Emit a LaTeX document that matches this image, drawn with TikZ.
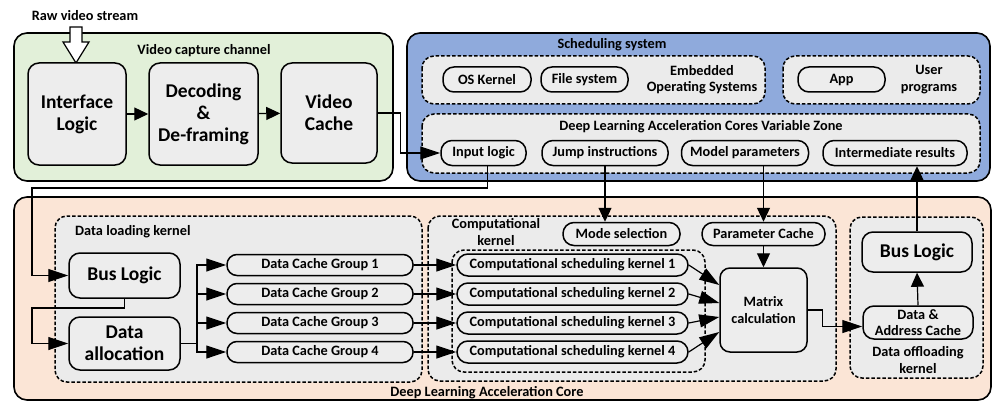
\documentclass[tikz,border=0pt]{standalone}
\usepackage{fontspec}
\setmainfont{Carlito}
\usetikzlibrary{arrows.meta,calc}

\definecolor{greenfill}{HTML}{E2F0D9}
\definecolor{bluefill}{HTML}{8FAADC}
\definecolor{orangefill}{HTML}{FBE5D6}
\definecolor{boxfill}{HTML}{EDEDED}
\definecolor{zonefill}{HTML}{EBEBEB}

\tikzset{
  small/.style={font=\fontsize{14.3}{16.5}\selectfont\bfseries},
  large/.style={font=\fontsize{19.5}{22}\selectfont\bfseries},
  frame/.style={draw, line width=1.6pt, rounded corners=13pt},
  zone/.style={draw, line width=1.5pt, dash pattern=on 3.5pt off 2pt, fill=zonefill, rounded corners=12pt},
  bigbox/.style={draw, line width=1.5pt, fill=boxfill, rounded corners=11pt, inner sep=0pt, align=center, large},
  pill/.style={draw, line width=1.5pt, fill=boxfill, rounded corners=11pt, inner sep=0pt, align=center, small},
  lbl/.style={inner sep=0pt, align=center, small},
  link/.style={line width=1.2pt, -{Triangle[length=14pt,width=13pt]}},
  longlink/.style={line width=1.2pt, -{Triangle[length=20pt,width=13pt]}},
  wire/.style={line width=1.2pt},
}

\begin{document}
\begin{tikzpicture}[x=1pt,y=-1pt]
\useasboundingbox (0,0) rectangle (995,401);

% ---------- outer frames ----------
\draw[frame, fill=greenfill] (14,33) rectangle (393,181);
\draw[frame, fill=bluefill] (407,33) rectangle (990,181);
\draw[frame, fill=orangefill] (14,197) rectangle (991,400);

% ---------- video capture channel ----------
\node[lbl] (rawlbl) at (85,16) {Raw video stream};
\draw[line width=1.2pt, fill=white, line join=miter]
  (70,27) -- (82,27) -- (82,42) -- (89,42) -- (76,63) -- (63,42) -- (70,42) -- cycle;
\node[lbl] (vcclbl) at (204,51) {Video capture channel};

\node[bigbox, minimum width=98pt, minimum height=102pt] (iface) at (77,114) {Interface\\Logic};
\node[bigbox, minimum width=109pt, minimum height=102pt] (decode) at (203.5,114) {Decoding\\\&\\De-framing};
\node[bigbox, minimum width=96pt, minimum height=100pt] (vcache) at (329,113) {Video\\Cache};

% ---------- scheduling system ----------
\node[lbl] (schedlbl) at (612,45) {Scheduling system};
\draw[zone] (422,56) rectangle (765,104);
\draw[zone] (783,56) rectangle (980,104);
\draw[zone] (422,114) rectangle (980,173);

\node[pill, minimum width=88pt, minimum height=25pt] (oskernel) at (487,79.5) {OS Kernel};
\node[pill, minimum width=87pt, minimum height=25pt] (filesys) at (584.5,79.5) {File system};
\node[lbl] (emblbl) at (702,79.5) {Embedded\\Operating Systems};
\node[pill, minimum width=87pt, minimum height=25pt] (app) at (841.5,79.5) {App};
\node[lbl] (userlbl) at (929,79.5) {User\\programs};

\node[lbl] (varlbl) at (701,127) {Deep Learning Acceleration Cores Variable Zone};
\node[pill, minimum width=85pt, minimum height=25pt] (inlogic) at (483.5,153) {Input logic};
\node[pill, minimum width=126pt, minimum height=25pt] (jump) at (605,153) {Jump instructions};
\node[pill, minimum width=127pt, minimum height=25pt] (model) at (745,153) {Model parameters};
\node[pill, minimum width=144pt, minimum height=25pt] (inter) at (895,153) {Intermediate results};

% ---------- deep learning acceleration core ----------
\node[lbl] (corelbl) at (487,393) {Deep Learning Acceleration Core};

% data loading kernel
\draw[zone] (55,216) rectangle (422,382);
\node[lbl, anchor=west] (loadlbl) at (75,232) {Data loading kernel};
\node[bigbox, minimum width=111pt, minimum height=45pt] (busL) at (124.5,275.5) {Bus Logic};
\node[bigbox, minimum width=111pt, minimum height=53pt] (alloc) at (124.5,343.5) {Data\\allocation};
\foreach \i/\y in {1/265,2/294,3/323,4/352}
  \node[pill, minimum width=186pt, minimum height=21pt, rounded corners=10pt] (dcg\i) at (320,\y) {Data Cache Group \i};

% computational kernel
\draw[zone] (428,216) rectangle (836,381);
\node[lbl] (complbl) at (496,232) {Computational\\kernel};
\node[pill, minimum width=117pt, minimum height=23pt] (modesel) at (621.5,234) {Mode selection};
\node[pill, minimum width=123pt, minimum height=23pt] (paramc) at (763.5,234) {Parameter Cache};
\draw[zone] (452,250) rectangle (705,372);
\foreach \i/\y in {1/265,2/294,3/323,4/352}
  \node[pill, minimum width=231pt, minimum height=22pt] (csk\i) at (572.5,\y) {Computational scheduling kernel \i};
\node[draw, line width=1.5pt, fill=boxfill, rounded corners=10pt, inner sep=0pt, align=center, small,
      minimum width=87pt, minimum height=84pt] (matrix) at (763.5,310) {Matrix\\calculation};

% data offloading kernel
\draw[zone] (850,217) rectangle (983,378);
\node[bigbox, minimum width=110pt, minimum height=40pt] (busR) at (917,252) {Bus Logic};
\node[pill, minimum width=110pt, minimum height=33pt] (daddr) at (918,322.5) {Data \&\\Address Cache};
\node[lbl] (offlbl) at (918,360) {Data offloading\\kernel};

% ---------- connectors ----------
\draw[link] (iface) -- (decode);
\draw[link] (decode) -- (vcache);
\draw[longlink] (vcache.east) -- ++(23,0) |- (inlogic.west);

\coordinate (upbend) at (32,188);
\draw[longlink] ([xshift=4pt]inlogic.south) |- (upbend) |- (busL.west);
\coordinate (lowbend) at (32,308);
\draw[longlink] (busL.south) |- (lowbend) |- (alloc.west);

\coordinate (split) at (197,343.5);
\draw[wire] (alloc.east) -- (split);
\foreach \i in {1,...,4} {
  \draw[longlink] (split) |- (dcg\i.west);
  \draw[longlink] (dcg\i.east) -- (csk\i.west);
}

\draw[longlink] (csk1.east) -- ([yshift=25pt]matrix.west);
\draw[longlink] (csk2.east) -- ([yshift=7pt]matrix.west);
\draw[longlink] (csk3.east) -- ([yshift=-7pt]matrix.west);
\draw[longlink] (csk4.east) -- ([yshift=-22pt]matrix.west);

\draw[link] (jump.south) -- (jump.south |- modesel.north);
\draw[link] (model.south -| paramc.north) -- (paramc.north);
\draw[link] (paramc.south) -- (matrix.north);

\draw[longlink] (matrix.east) -- ++(15,0) |- ([yshift=-4pt]daddr.west);
\draw[link] (daddr.north) -- (busR.south);
\draw[link] (busR.north) -- (busR.north |- inter.south);
\end{tikzpicture}
\end{document}
